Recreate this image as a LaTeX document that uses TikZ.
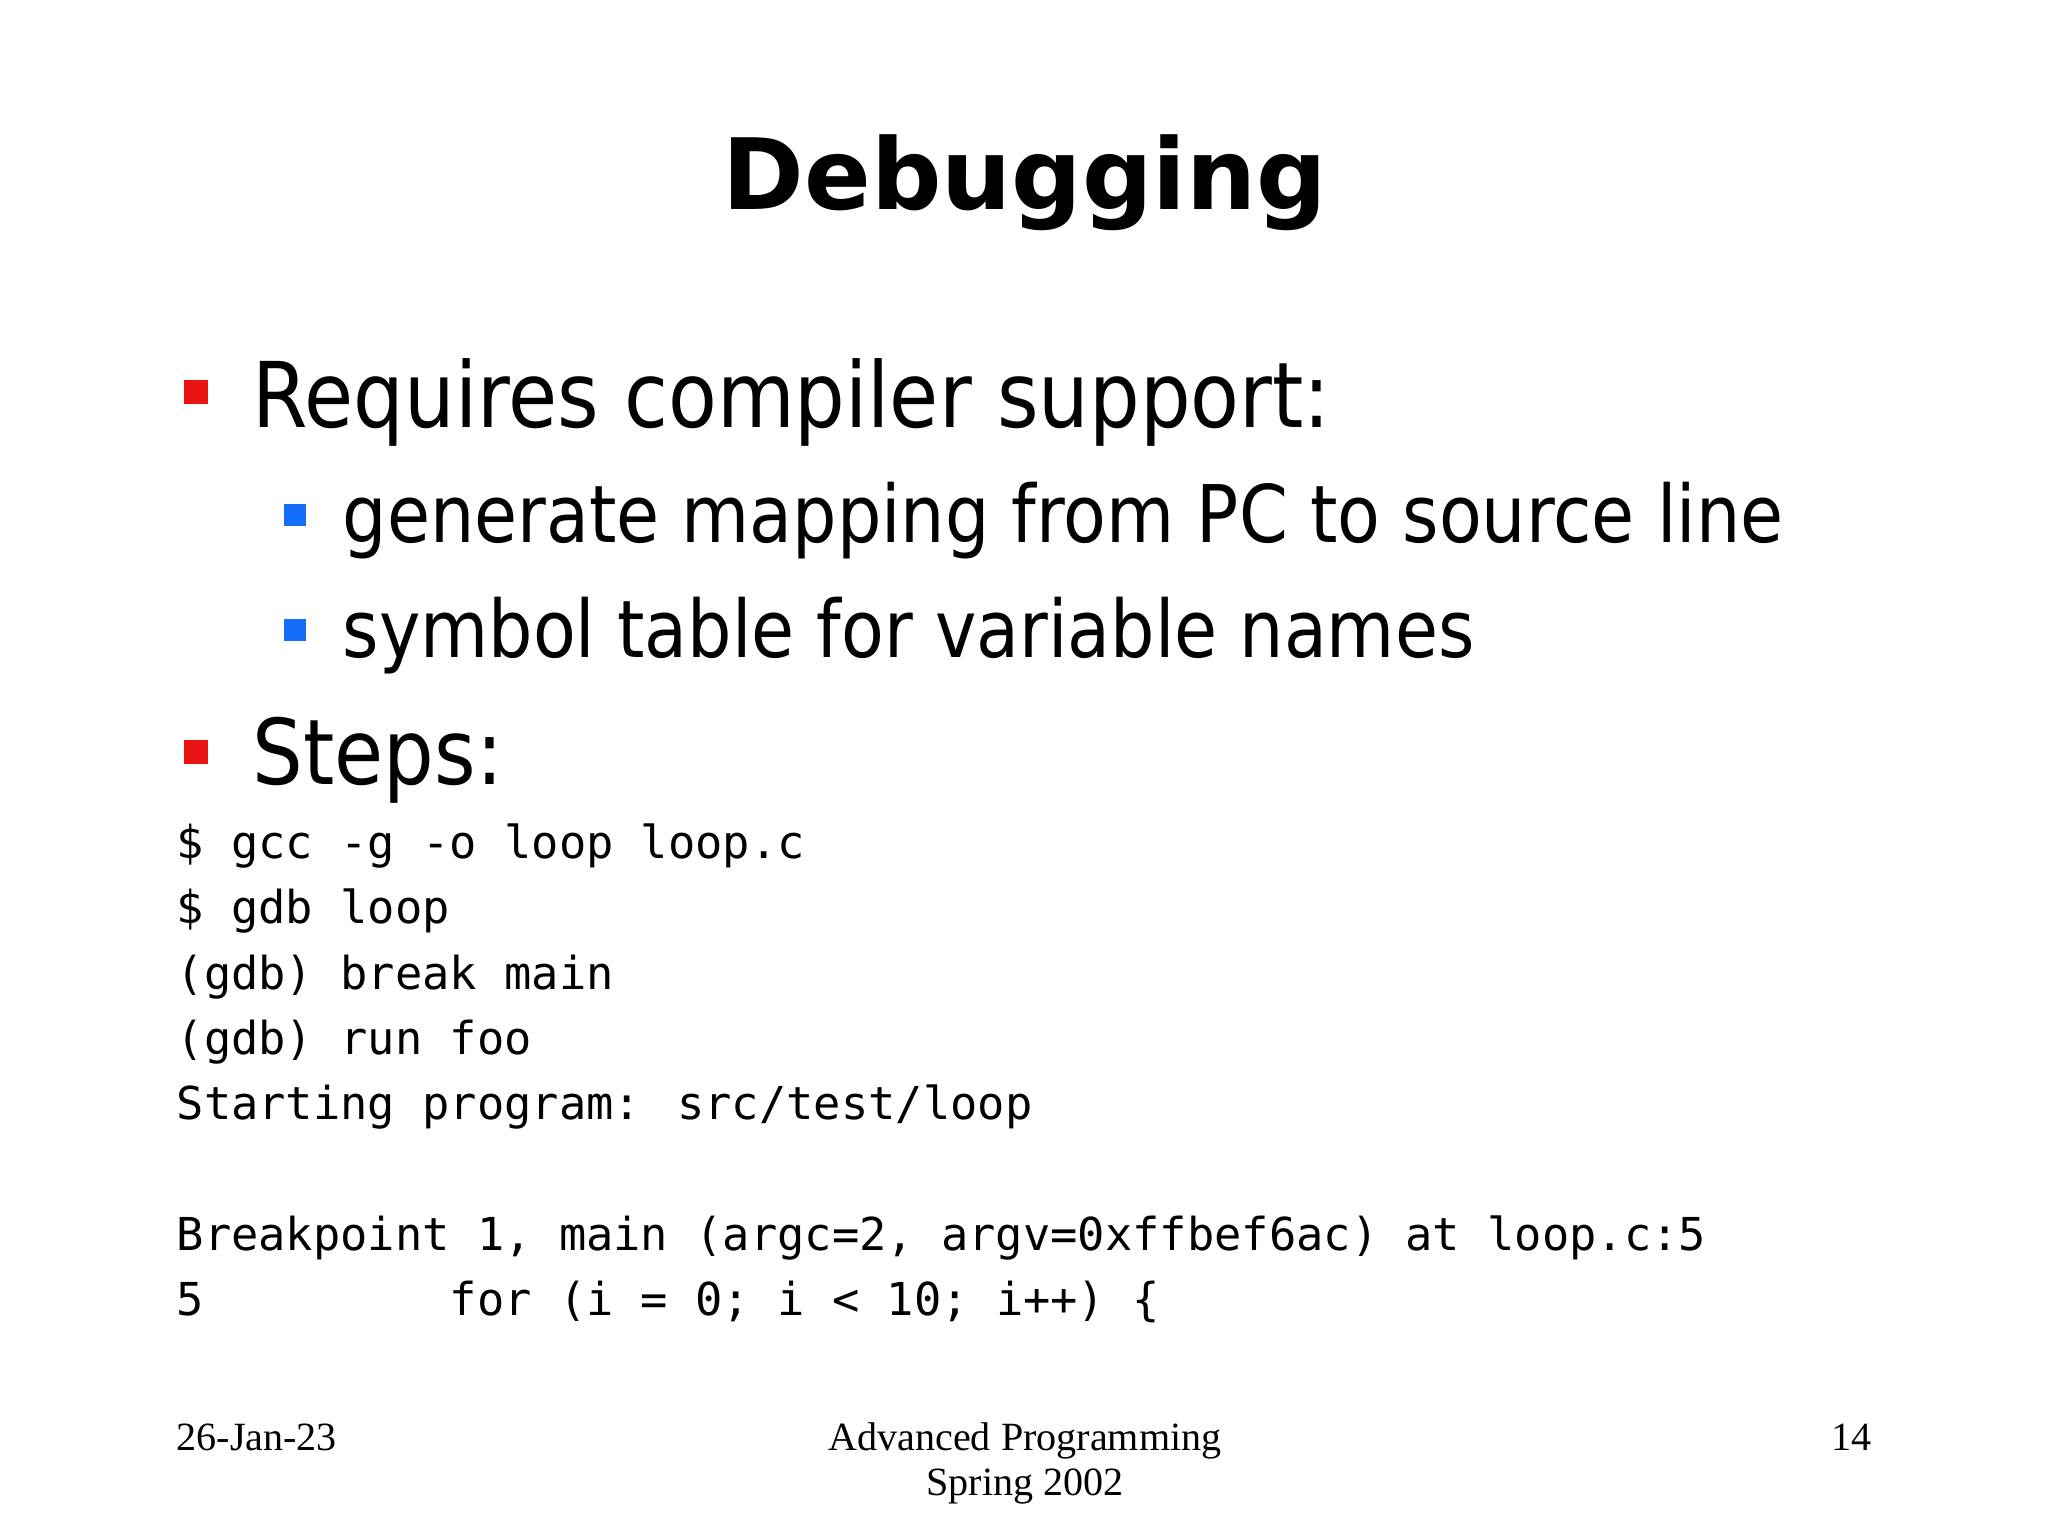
\documentclass[tikz,border=0pt]{standalone}
\usepackage{fontspec}
\setmainfont{DejaVu Sans}
\newfontfamily\titlefont{DejaVu Sans}
\newfontfamily\bodyfont[FakeStretch=0.88]{DejaVu Sans}
\newfontfamily\codefont{DejaVu Sans Mono}
\newfontfamily\footfont{Liberation Serif}
\definecolor{bred}{RGB}{235,20,20}
\definecolor{bblue}{RGB}{20,110,250}
\begin{document}
\begin{tikzpicture}[x=0.01cm,y=-0.01cm,
  txt/.style={anchor=base west,inner sep=0pt},
  code/.style={txt,font=\codefont\fontsize{12.9}{14}\selectfont},
  lvl1/.style={txt,font=\bodyfont\fontsize{25.8}{30}\selectfont},
  lvl2/.style={txt,font=\bodyfont\fontsize{22.6}{27}\selectfont},
  foot/.style={inner sep=0pt,font=\footfont\fontsize{11.4}{13}\selectfont}]
\useasboundingbox[fill=white] (0,0) rectangle (2048,1536);
\node[anchor=base,inner sep=0pt,font=\titlefont\bfseries\fontsize{28}{32}\selectfont] (title) at (1025,209) {Debugging};
\fill[bred] (184,380) rectangle (208,404);
\node[lvl1] (l1) at (252,427) {Requires compiler support:};
\fill[bblue] (284,504) rectangle (306,526);
\node[lvl2] (s1) at (342,542) {generate mapping from PC to source line};
\fill[bblue] (284,619) rectangle (306,641);
\node[lvl2] (s2) at (342,657) {symbol table for variable names};
\fill[bred] (184,740) rectangle (208,764);
\node[lvl1] (l2) at (252,784) {Steps:};
\node[code] (c1) at (176,858) {\$ gcc -g -o loop loop.c};
\node[code] (c2) at (176,923) {\$ gdb loop};
\node[code] (c3) at (176,989) {(gdb) break main};
\node[code] (c4) at (176,1054) {(gdb) run foo};
\node[code] (c5) at (176,1119) {Starting program: src/test/loop};
\node[code] (c6) at (176,1250) {Breakpoint 1, main (argc=2, argv=0xffbef6ac) at loop.c:5};
\node[code] (c7) at (176,1315) {5\ \ \ \ \ \ \ \ \ for (i = 0; i < 10; i++) \{};
\node[foot,anchor=base west] (date) at (176,1450) {26-Jan-23};
\node[foot,anchor=base] (course) at (1025,1450) {Advanced Programming};
\node[foot,anchor=base] (term) at (1025,1495) {Spring 2002};
\node[foot,anchor=base east] (page) at (1872,1450) {14};
\end{tikzpicture}
\end{document}
